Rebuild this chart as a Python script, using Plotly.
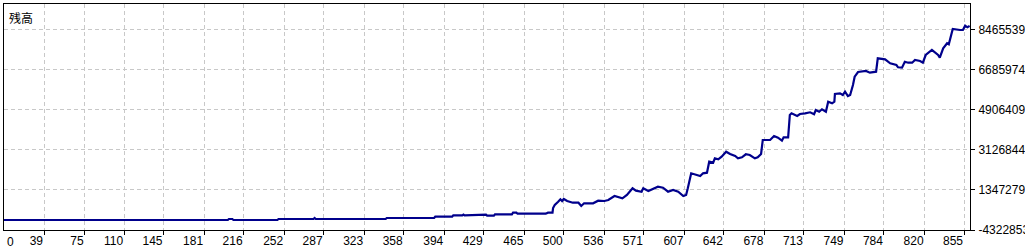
import plotly.graph_objects as go

# Balance curve (trade number -> balance)
trade = [0, 202, 203, 206, 207, 246, 247, 278, 279, 280, 342, 343, 385, 386, 401, 402, 410, 411, 412,
         419, 420, 431, 432, 438, 439, 454, 455, 458, 459, 484, 486, 490, 490.5, 492, 495, 497, 498.5,
         500, 503, 508, 513, 515.5, 518, 526, 530.5, 536, 539.5, 545, 552, 556, 561, 564, 569, 570.5,
         575, 580, 583.5, 588, 592.5, 597, 601.5, 606, 608.5, 610, 613, 618, 621, 623.5, 627, 629,
         632.5, 634, 637, 640, 644, 647.5, 652, 654.5, 658, 661.5, 665, 669.5, 672, 675, 676.5, 683,
         686.5, 690, 693.5, 695, 699, 700.5, 702, 707, 709.5, 714, 718.5, 722, 723.5, 726.5, 729,
         732.5, 734.5, 738, 740, 740.5, 745, 747.5, 749.5, 752, 754, 756.5, 758, 761, 764.5, 768,
         771.5, 777, 778.5, 785, 789.5, 795, 796.5, 800, 802.5, 805.5, 809, 811.5, 816, 818.5, 821,
         826.5, 832, 833.5, 836.5, 840, 841.5, 843.5, 845, 851.5, 854, 856, 858, 860]
balance = [10000, 10000, 55000, 55000, 10000, 10000, 55000, 55000, 100000, 55000, 55000, 100000,
           100000, 157000, 157000, 219000, 219000, 255000, 219000, 219000, 246000, 246000, 202000,
           202000, 264000, 264000, 335000, 335000, 290000, 290000, 335000, 335000, 543000, 676000,
           822000, 929000, 853000, 942000, 853000, 778000, 778000, 632000, 751000, 751000, 867000,
           853000, 898000, 1075000, 973000, 1119000, 1416000, 1310000, 1265000, 1416000, 1297000,
           1416000, 1487000, 1443000, 1265000, 1341000, 1265000, 1075000, 1119000, 1416000, 2081000,
           2006000, 1962000, 2081000, 2108000, 2596000, 2552000, 2747000, 2702000, 2817000, 3039000,
           2937000, 2848000, 2746000, 2791000, 2924000, 2893000, 2746000, 2791000, 2937000, 3558000,
           3558000, 3735000, 3660000, 3527000, 3678000, 3678000, 4666000, 4741000, 4622000, 4710000,
           4741000, 4786000, 4697000, 4888000, 4812000, 4919000, 4812000, 5256000, 5185000, 5256000,
           5597000, 5628000, 5553000, 5699000, 5508000, 5553000, 5996000, 6364000, 6572000, 6586000,
           6617000, 6541000, 6586000, 7180000, 7136000, 6958000, 6883000, 6781000, 6763000, 7029000,
           6985000, 6985000, 7104000, 7060000, 6985000, 7326000, 7548000, 7326000, 7206000, 7623000,
           7845000, 7801000, 8213000, 8479000, 8434000, 8434000, 8625000, 8554000, 8612000]

x_ticks = [39, 75, 110, 145, 181, 216, 252, 287, 323, 358, 394, 429, 465, 500, 536, 571, 607,
           642, 678, 713, 749, 784, 820, 855]
y_ticks = [-432286, 1347279, 3126844, 4906409, 6685974, 8465539]
y_labels = ["-4322853", "1347279", "3126844", "4906409", "6685974", "8465539"]
title_text = "残高"

fig = go.Figure()
fig.add_trace(go.Scatter(x=trade, y=balance, mode="lines",
                         line=dict(color="#00008C", width=2.2, shape="linear"),
                         hoverinfo="skip"))

font = dict(family="Liberation Sans", size=12, color="#000000")

fig.update_layout(
    width=1025, height=250,
    margin=dict(l=4, r=55, t=4, b=20, autoexpand=False),
    paper_bgcolor="white", plot_bgcolor="white",
    showlegend=False,
    font=font,
    xaxis=dict(range=[3.5, 860.3], tickvals=x_ticks, ticktext=[str(v) for v in x_ticks],
               showgrid=True, gridcolor="#c8c8c8", griddash="4px,3px", gridwidth=1,
               showline=True, linecolor="black", linewidth=1, mirror=True,
               ticks="outside", ticklen=4, tickcolor="black", automargin=False,
               ticklabelposition="outside left", zeroline=False, tickfont=font),
    yaxis=dict(range=[-432286, 9587000], side="right", tickvals=y_ticks, ticktext=y_labels,
               showgrid=True, gridcolor="#c8c8c8", griddash="4px,3px", gridwidth=1,
               showline=True, linecolor="black", linewidth=1, mirror=True,
               ticks="outside", ticklen=4, tickcolor="black", zeroline=False, tickfont=font,
               ticklabelstandoff=1, automargin=False),
    annotations=[
        dict(text=title_text, xref="paper", yref="paper", x=0, y=1, xanchor="left", yanchor="top",
             xshift=3, yshift=-3, showarrow=False,
             font=dict(family="Noto Sans CJK JP", size=12, color="black")),
        dict(text="0", xref="paper", yref="paper", x=0, y=0, xanchor="left", yanchor="top",
             xshift=1, yshift=-3, showarrow=False, font=font),
    ],
)

fig.write_html("out.html")
